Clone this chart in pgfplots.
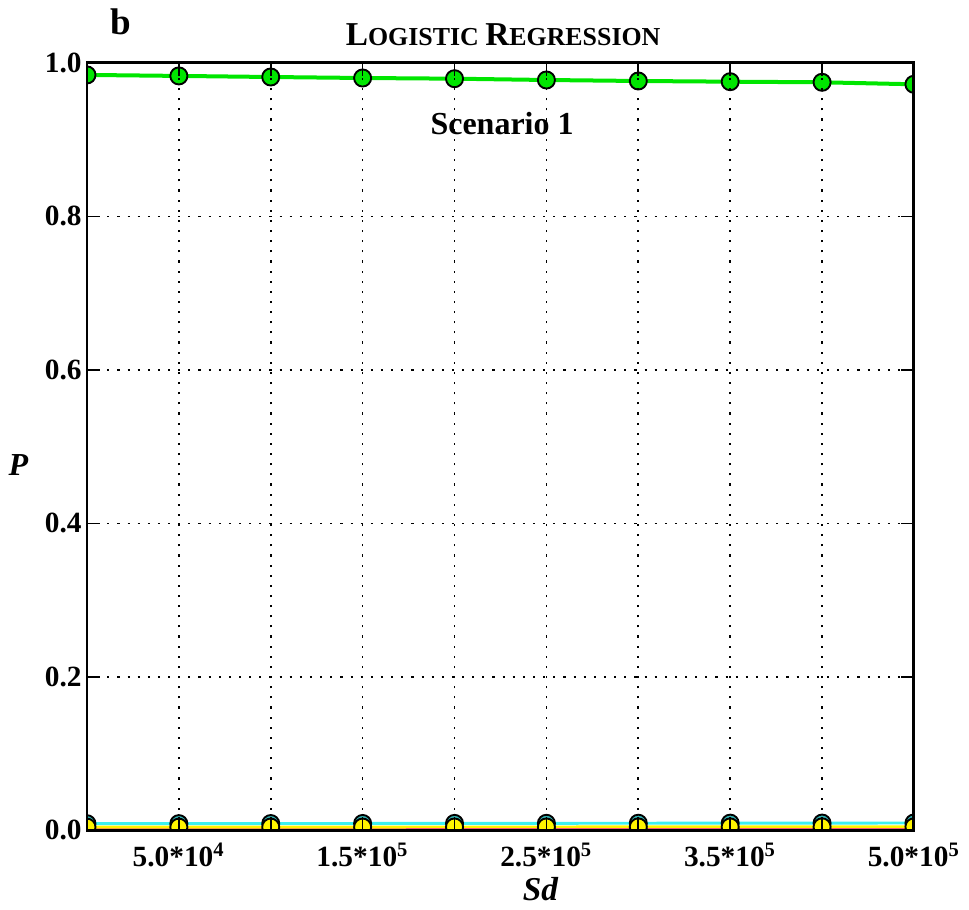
\documentclass[border=0pt]{standalone}
\usepackage{fontspec}
\setmainfont{Liberation Serif}
\usepackage{pgfplots}
\pgfplotsset{compat=1.18}

\definecolor{cgreen}{RGB}{0,230,0}
\definecolor{ccyan}{RGB}{60,240,240}
\definecolor{cteal}{RGB}{50,180,180}
\definecolor{cyell}{RGB}{255,245,0}
\definecolor{cmag}{RGB}{240,0,170}

\begin{document}
\begin{tikzpicture}
\begin{axis}[
    name=ax,
    scale only axis,
    width=310pt, height=287.6pt,
    xmin=0, xmax=9, ymin=0, ymax=1,
    xtick={0,...,9},
    xticklabels={{},5.0*10\textsuperscript{4},{},1.5*10\textsuperscript{5},{},2.5*10\textsuperscript{5},{},3.5*10\textsuperscript{5},{},5.0*10\textsuperscript{5}},
    ytick={0,0.2,0.4,0.6,0.8,1.0},
    yticklabels={0.0,0.2,0.4,0.6,0.8,1.0},
    tick label style={font=\fontsize{11}{13}\selectfont\bfseries},
    xticklabel style={yshift=-1.2pt},
    yticklabel style={xshift=1.5pt},
    major tick length=4.9pt,
    tick style={black, line width=0.6pt},
    axis line style={line width=1.1pt},
    grid=major,
    major grid style={black, line width=0.6pt, dash pattern=on 0.8pt off 3pt},
    axis on top,
    clip marker paths=true,
    every axis plot/.append style={mark=*, mark size=3.2pt},
]
% cyan series
\addplot[ccyan, line width=1.1pt, mark options={fill=cteal, draw=black, line width=0.7pt}] coordinates {
    (0,0.0085) (1,0.0086) (2,0.0087) (3,0.0088) (4,0.0089) (5,0.0090) (6,0.0091) (7,0.0092) (8,0.0093) (9,0.0094)
};
% magenta series
\addplot[cmag, line width=1.1pt, mark options={fill=cmag, draw=black, line width=0.7pt}] coordinates {
    (0,0.0008) (1,0.0009) (2,0.0010) (3,0.0011) (4,0.0012) (5,0.0013) (6,0.0014) (7,0.0015) (8,0.0016) (9,0.0017)
};
% yellow series
\addplot[cyell, line width=1.1pt, mark options={fill=cyell, draw=black, line width=0.7pt}] coordinates {
    (0,0.0040) (1,0.0040) (2,0.0041) (3,0.0041) (4,0.0042) (5,0.0042) (6,0.0043) (7,0.0043) (8,0.0044) (9,0.0044)
};
% green series
\addplot[cgreen, line width=1.5pt, mark options={fill=cgreen, draw=black, line width=0.7pt}] coordinates {
    (0,0.9844) (1,0.9831) (2,0.9817) (3,0.9804) (4,0.9795) (5,0.9778) (6,0.9765) (7,0.9756) (8,0.9748) (9,0.9722)
};
\end{axis}
% frame of the page
\path (ax.south west)++(-32.6pt,-29.6pt) coordinate (bbl);
\path (ax.north east)++(20.6pt,23.6pt) coordinate (bbr);
\path (bbl) rectangle (bbr);
% texts
\node[anchor=base, inner sep=0pt] at ([shift={(156pt,6.5pt)}]ax.north west)
    {\bfseries\fontsize{12.5}{15}\selectfont L\fontsize{9.7}{12}\selectfont OGISTIC \fontsize{12.5}{15}\selectfont R\fontsize{9.7}{12}\selectfont EGRESSION};
\node[anchor=base west, inner sep=0pt] at ([shift={(8.6pt,10.5pt)}]ax.north west)
    {\bfseries\fontsize{13.9}{16}\selectfont b};
\node[anchor=base, inner sep=0pt] at ([shift={(155.6pt,-27pt)}]ax.north west)
    {\bfseries\fontsize{12}{14}\selectfont Scenario 1};
\node[anchor=center, inner sep=0pt] at ([shift={(-25.7pt,136.9pt)}]ax.south west)
    {\bfseries\itshape\fontsize{12}{14}\selectfont P};
\node[anchor=base, inner sep=0pt] at ([shift={(170pt,-26.2pt)}]ax.south west)
    {\bfseries\itshape\fontsize{12.5}{15}\selectfont Sd};
\end{tikzpicture}
\end{document}
